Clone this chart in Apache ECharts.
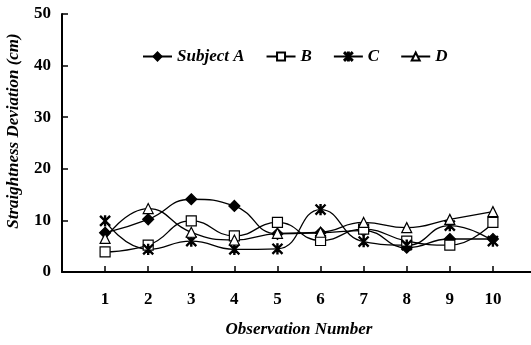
<!DOCTYPE html>
<html><head><meta charset="utf-8">
<script src="https://cdn.jsdelivr.net/npm/echarts@6/dist/echarts.min.js"></script>
<style>html,body{margin:0;padding:0;background:#fff}#c{width:531px;height:345px}</style>
</head><body><div id="c"></div>
<script>
var observations = [1,2,3,4,5,6,7,8,9,10];
var seriesNames = ['Subject A','B','C','D'];
var subjectA = [7.6,10.2,14.1,12.8,7.4,7.6,8.0,4.7,6.4,6.4];
var subjectB = [3.9,5.2,9.9,7.0,9.6,6.1,8.3,6.0,5.2,9.6];
var subjectC = [9.9,4.4,6.0,4.4,4.5,12.1,5.9,5.2,9.0,6.0];
var subjectD = [6.5,12.3,7.7,6.2,7.5,7.7,9.6,8.6,10.2,11.7];
var yTicks = [0,10,20,30,40,50];

var star = 'path://M-0.6,-5L0.6,-5L0.6,5L-0.6,5Z M-5,-4.2L-4.2,-5L5,4.2L4.2,5Z M5,-4.2L4.2,-5L-5,4.2L-4.2,5Z';
var font = '"Liberation Serif","Times New Roman",serif';
function pairs(arr){return observations.map(function(x,i){return [x,arr[i]];});}
function mk(name, data, symbol, size, fill){
  return {name:name,type:'line',data:pairs(data),smooth:0.5,symbol:symbol,symbolSize:size,
    lineStyle:{color:'#000',width:1.3},
    itemStyle:{color:fill,borderColor:'#000',borderWidth:1.2},
    emphasis:{disabled:true}};
}
var chart = echarts.init(document.getElementById('c'));
chart.setOption({
  animation:false,
  grid:{left:62,width:474,top:14,height:258,containLabel:false,outerBoundsMode:'none'},
  legend:{top:43,left:137,itemGap:21,itemWidth:29,itemHeight:10,
    textStyle:{fontFamily:font,fontWeight:'bold',fontStyle:'italic',fontSize:17,color:'#000'},
    data:seriesNames},
  xAxis:{type:'value',min:0,max:11,interval:1,
    name:'Observation Number',nameLocation:'middle',nameGap:49,
    nameTextStyle:{fontFamily:font,fontWeight:'bold',fontStyle:'italic',fontSize:17,color:'#000'},
    axisLine:{lineStyle:{color:'#000',width:2}},
    axisTick:{inside:true,length:6,lineStyle:{color:'#000',width:1.5}},
    splitLine:{show:false},
    axisLabel:{margin:19,fontFamily:font,fontWeight:'bold',fontSize:17,color:'#000',
      formatter:function(v){return observations.indexOf(v)>=0?String(v):'';}}},
  yAxis:{type:'value',min:yTicks[0],max:yTicks[yTicks.length-1],interval:10,
    name:'Straightness Deviation (cm)',nameLocation:'middle',nameGap:40,
    nameTextStyle:{fontFamily:font,fontWeight:'bold',fontStyle:'italic',fontSize:17,color:'#000',padding:[0,0,0,24]},
    axisLine:{show:true,lineStyle:{color:'#000',width:2}},
    axisTick:{show:true,inside:true,length:6,lineStyle:{color:'#000',width:1.5}},
    splitLine:{show:false},
    axisLabel:{margin:11,fontFamily:font,fontWeight:'bold',fontSize:17,color:'#000'}},
  series:[
    mk(seriesNames[0],subjectA,'diamond',11,'#000'),
    mk(seriesNames[1],subjectB,'rect',10,'#fff'),
    mk(seriesNames[2],subjectC,star,10,'#000'),
    mk(seriesNames[3],subjectD,'triangle',10,'#fff')
  ]
});
</script></body></html>
